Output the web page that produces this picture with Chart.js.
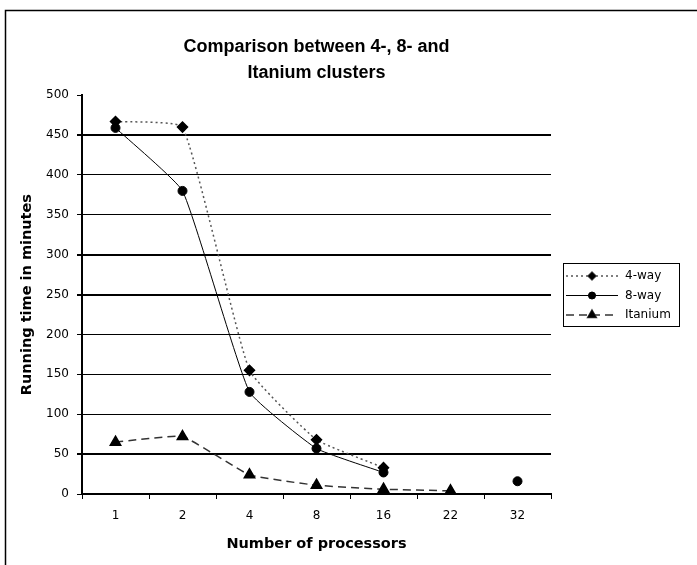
<!DOCTYPE html>
<html><head><meta charset="utf-8">
<script src="https://cdn.jsdelivr.net/npm/chart.js@4"></script>
<style>html,body{margin:0;padding:0;background:#fff}#wrap{width:697px;height:565px;position:relative}</style>
</head><body><div id="wrap"><canvas id="c" width="697" height="565"></canvas></div>
<script>
const categories = ['1', '2', '4', '8', '16', '22', '32'];
const fourWay = [467, 460, 155, 68, 33, null, null];
const eightWay = [459, 380, 128, 57, 27, null, 16];
const itanium = [65, 72, 24, 11, 6, 4, null];
const seriesLabels = ['4-way', '8-way', 'Itanium'];
const titleLines = ['Comparison between 4-, 8- and', 'Itanium clusters'];
const xTitle = 'Number of processors';
const yTitle = 'Running time in minutes';
const yMin = 0, yMax = 500, yStep = 50;

const thickGrid = [450, 300, 250, 50];

const frame = {
  id: 'frame',
  afterDraw(chart) {
    const ctx = chart.ctx;
    ctx.save();
    ctx.strokeStyle = '#000';
    ctx.lineWidth = 1.5;
    ctx.beginPath();
    ctx.moveTo(5.5, 565);
    ctx.lineTo(5.5, 10.5);
    ctx.lineTo(697, 10.5);
    ctx.stroke();
    // legend
    const lx = 563, ly = 263, lw = 116, lh = 63;
    ctx.lineWidth = 1;
    ctx.strokeRect(lx + 0.5, ly + 0.5, lw, lh);
    chart.data.datasets.forEach((ds, i) => {
      const y = ly + 13 + i * 19.5;
      ctx.save();
      ctx.strokeStyle = ds.borderColor;
      ctx.lineWidth = ds.borderWidth;
      ctx.setLineDash(ds.borderDash || []);
      ctx.beginPath();
      ctx.moveTo(lx + 3, y);
      ctx.lineTo(lx + 55, y);
      ctx.stroke();
      ctx.setLineDash([]);
      ctx.fillStyle = '#000';
      Chart.helpers.drawPoint(ctx, {pointStyle: ds.pointStyle, radius: ds.pointRadius - 1, rotation: 0, borderWidth: 1}, lx + 29, y);
      ctx.fill();
      ctx.restore();
      ctx.fillStyle = '#000';
      ctx.font = '12px "DejaVu Sans"';
      ctx.textBaseline = 'middle';
      ctx.textAlign = 'left';
      ctx.fillText(ds.label, lx + 62, y);
    });
    ctx.restore();
  }
};

new Chart(document.getElementById('c'), {
  type: 'line',
  data: {
    labels: categories,
    datasets: [
      {label: seriesLabels[0], data: fourWay, borderColor: '#555', backgroundColor: '#000', borderWidth: 1.5, borderDash: [2, 3], pointStyle: 'rectRot', pointRadius: 5, pointBorderColor: '#000', tension: 0.12, spanGaps: false},
      {label: seriesLabels[1], data: eightWay, borderColor: '#000', backgroundColor: '#000', borderWidth: 1, pointStyle: 'circle', pointRadius: 4.5, pointBorderColor: '#000', tension: 0.12, spanGaps: false},
      {label: seriesLabels[2], data: itanium, borderColor: '#333', backgroundColor: '#000', borderWidth: 1.5, borderDash: [8, 5], pointStyle: 'triangle', pointRadius: 6, pointBorderColor: '#000', tension: 0.12, spanGaps: false}
    ]
  },
  options: {
    responsive: false,
    animation: false,
    devicePixelRatio: 1,
    layout: {padding: {left: 10, top: 18, right: 146, bottom: 0}},
    plugins: {
      legend: {display: false},
      tooltip: {enabled: false},
      title: {
        display: true, fullSize: false, text: titleLines, color: '#000',
        font: {family: '"Liberation Sans"', size: 18, weight: 'bold', lineHeight: 1.45},
        padding: {top: 16, bottom: 9}
      }
    },
    scales: {
      x: {
        offset: true,
        afterFit: s => { s.height = 71; },
        grid: {display: true, drawOnChartArea: false, offset: true, tickLength: 5, color: '#000', lineWidth: 1},
        border: {display: true, color: '#000', width: 2},
        ticks: {color: '#000', font: {family: '"DejaVu Sans"', size: 12}, padding: 10, maxRotation: 0},
        title: {display: true, text: xTitle, color: '#000', font: {family: '"DejaVu Sans"', size: 14.5, weight: 'bold'}, padding: {top: 0, bottom: 12}}
      },
      y: {
        min: yMin, max: yMax,
        afterFit: s => { s.width = 72; },
        grid: {
          color: c => (c.tick && c.tick.value === yMax) ? 'rgba(0,0,0,0)' : '#000',
          tickColor: '#000',
          lineWidth: c => (c.tick && thickGrid.includes(c.tick.value)) ? 2 : 1,
          tickLength: 5
        },
        border: {display: true, color: '#000', width: 2},
        ticks: {stepSize: yStep, color: '#000', font: {family: '"DejaVu Sans"', size: 12}, padding: 8},
        title: {display: true, text: yTitle, color: '#000', font: {family: '"DejaVu Sans"', size: 14.5, weight: 'bold'}, padding: {top: 9, bottom: 0}}
      }
    }
  },
  plugins: [frame]
});
</script>
</body></html>
